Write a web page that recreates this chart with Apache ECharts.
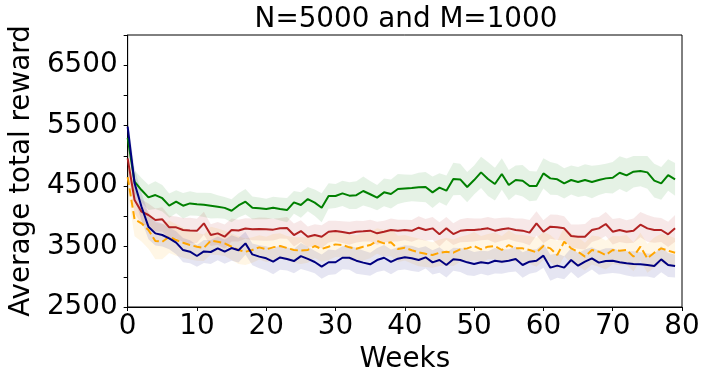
<!DOCTYPE html>
<html>
<head>
<meta charset="utf-8">
<script src="https://cdn.jsdelivr.net/npm/echarts@6/dist/echarts.min.js"></script>
<style>
  html, body { margin: 0; padding: 0; background: #fff; }
  #chart { width: 707px; height: 382px; }
</style>
</head>
<body>
<div id="chart"></div>
<script>
// weeks 0..79
const weeks = Array.from({ length: 80 }, (_, i) => i)

const greenMean = [5300, 4573, 4435, 4314, 4352, 4300, 4176, 4242, 4176, 4214,
  4200, 4190, 4175, 4160, 4140, 4093, 4180, 4242, 4140, 4132,
  4121, 4143, 4121, 4104, 4231, 4187, 4286, 4226, 4143, 4336,
  4336, 4380, 4342, 4350, 4419, 4365, 4309, 4397, 4370, 4452,
  4462, 4470, 4480, 4485, 4397, 4474, 4424, 4617, 4611, 4485,
  4600, 4727, 4617, 4534, 4700, 4518, 4601, 4590, 4501, 4501,
  4711, 4628, 4612, 4546, 4601, 4568, 4601, 4568, 4601, 4628,
  4639, 4722, 4678, 4738, 4749, 4727, 4590, 4546, 4683, 4612]
const greenSpread = [150, 190, 200, 210, 230, 220, 200, 190, 210, 200,
  190, 200, 210, 190, 180, 190, 200, 210, 190, 180,
  170, 180, 190, 200, 190, 210, 200, 220, 240, 210,
  200, 210, 220, 230, 240, 220, 210, 230, 240, 250,
  230, 220, 240, 250, 260, 240, 250, 270, 260, 250,
  240, 260, 280, 270, 260, 250, 240, 260, 250, 240,
  250, 270, 260, 250, 240, 250, 260, 270, 250, 240,
  260, 270, 280, 260, 250, 270, 280, 270, 260, 270]

const redMean = [4959, 4270, 4077, 4022, 3939, 3950, 3818, 3818, 3774, 3765,
  3760, 3884, 3691, 3718, 3663, 3774, 3765, 3800, 3785, 3790,
  3785, 3780, 3802, 3808, 3691, 3757, 3663, 3691, 3663, 3746,
  3757, 3740, 3719, 3746, 3752, 3763, 3719, 3746, 3774, 3763,
  3774, 3760, 3812, 3774, 3801, 3702, 3801, 3707, 3760, 3774,
  3774, 3785, 3801, 3763, 3785, 3801, 3774, 3763, 3730, 3884,
  3746, 3829, 3818, 3801, 3674, 3663, 3663, 3774, 3801, 3873,
  3746, 3774, 3746, 3763, 3862, 3801, 3774, 3774, 3702, 3801]
const redSpread = [200, 220, 200, 190, 190, 200, 190, 180, 200, 210,
  200, 190, 180, 190, 200, 190, 180, 170, 180, 190,
  190, 180, 170, 180, 190, 180, 170, 180, 190, 180,
  170, 180, 190, 180, 170, 180, 190, 180, 190, 180,
  170, 180, 190, 180, 190, 200, 190, 180, 190, 200,
  190, 180, 190, 200, 190, 180, 190, 200, 210, 200,
  190, 200, 210, 200, 190, 200, 210, 200, 190, 200,
  210, 200, 190, 200, 210, 220, 210, 200, 210, 220]

const orangeMean = [4650, 3950, 3884, 3774, 3592, 3580, 3663, 3608, 3564, 3525,
  3497, 3480, 3597, 3580, 3552, 3497, 3442, 3415, 3443, 3487,
  3454, 3487, 3509, 3476, 3443, 3432, 3443, 3509, 3460, 3498,
  3536, 3525, 3487, 3465, 3498, 3525, 3592, 3553, 3570, 3460,
  3480, 3440, 3404, 3380, 3360, 3398, 3415, 3398, 3454, 3470,
  3509, 3454, 3498, 3509, 3443, 3525, 3470, 3470, 3443, 3404,
  3509, 3470, 3360, 3581, 3470, 3415, 3333, 3443, 3415, 3360,
  3443, 3432, 3443, 3333, 3498, 3305, 3398, 3470, 3432, 3398]
const orangeSpread = [250, 280, 300, 310, 300, 290, 270, 260, 250, 240,
  230, 220, 230, 220, 210, 220, 230, 220, 210, 200,
  210, 220, 210, 200, 210, 220, 210, 200, 210, 220,
  210, 200, 210, 220, 230, 220, 210, 220, 230, 220,
  210, 220, 230, 220, 210, 220, 230, 220, 210, 220,
  230, 220, 210, 220, 230, 240, 230, 220, 230, 240,
  230, 220, 230, 240, 250, 240, 230, 240, 250, 240,
  230, 240, 250, 240, 230, 240, 250, 240, 250, 240]

const navyMean = [5483, 4546, 4159, 3829, 3718, 3691, 3636, 3564, 3442, 3415,
  3344, 3420, 3410, 3470, 3415, 3475, 3440, 3553, 3370, 3333,
  3305, 3250, 3320, 3295, 3260, 3342, 3295, 3245, 3167, 3240,
  3240, 3315, 3315, 3266, 3234, 3206, 3277, 3315, 3245, 3300,
  3322, 3305, 3277, 3322, 3239, 3277, 3195, 3290, 3277, 3239,
  3211, 3239, 3222, 3266, 3250, 3266, 3294, 3195, 3250, 3266,
  3349, 3151, 3184, 3151, 3277, 3184, 3250, 3305, 3234, 3261,
  3266, 3239, 3222, 3211, 3206, 3195, 3178, 3288, 3195, 3178]
const navySpread = [150, 250, 230, 210, 200, 190, 180, 190, 200, 190,
  180, 190, 200, 195, 200, 210, 205, 190, 180, 190,
  200, 210, 205, 190, 200, 215, 200, 185, 200, 210,
  200, 190, 200, 215, 200, 190, 200, 210, 205, 190,
  200, 210, 200, 185, 200, 210, 205, 190, 200, 215,
  200, 190, 200, 210, 200, 190, 205, 210, 200, 190,
  200, 215, 200, 190, 200, 210, 200, 185, 200, 210,
  205, 190, 200, 210, 200, 190, 200, 215, 200, 190]

const yLabelValues = [2500, 3500, 4500, 5500, 6500]

const FONT = 'DejaVu Sans'
const FS = 27.8

const groups = [
  { key: 'green', color: '#008000', mean: greenMean, spread: greenSpread, dashed: false },
  { key: 'red', color: '#b22222', mean: redMean, spread: redSpread, dashed: false },
  { key: 'orange', color: '#ffa500', mean: orangeMean, spread: orangeSpread, dashed: true },
  { key: 'navy', color: '#000080', mean: navyMean, spread: navySpread, dashed: false }
]

const series = []
// shaded bands: one polygon per group, lower edge forward then upper edge back
groups.forEach(g => {
  const lower = weeks.map((w, i) => g.mean[i] - g.spread[i])
  const upper = weeks.map((w, i) => g.mean[i] + g.spread[i])
  series.push({
    type: 'custom',
    silent: true,
    z: 1,
    data: weeks.map((w, i) => [w, lower[i], upper[i]]),
    encode: { x: 0, y: [1, 2] },
    renderItem: (params, api) => {
      if (params.dataIndexInside !== 0) return null
      const pts = []
      for (let i = 0; i < weeks.length; i++) pts.push(api.coord([weeks[i], lower[i]]))
      for (let i = weeks.length - 1; i >= 0; i--) pts.push(api.coord([weeks[i], upper[i]]))
      return {
        type: 'polygon',
        shape: { points: pts },
        style: { fill: g.color, opacity: 0.1 }
      }
    }
  })
})
groups.forEach(g => {
  series.push({
    type: 'line',
    symbol: 'none',
    lineStyle: { color: g.color, width: 2, type: g.dashed ? [8, 3.5] : 'solid' },
    data: weeks.map((w, i) => [w, g.mean[i]]),
    z: 3
  })
})

const chart = echarts.init(document.getElementById('chart'))
chart.setOption({
  animation: false,
  backgroundColor: '#fff',
  title: {
    text: 'N=5000 and M=1000',
    left: 401,
    top: 1,
    textAlign: 'center',
    textStyle: { fontFamily: FONT, fontSize: FS, fontWeight: 'normal', color: '#000' }
  },
  grid: {
    left: 123,
    right: 25,
    top: 35,
    bottom: 75,
    show: true,
    borderColor: '#000',
    borderWidth: 1
  },
  xAxis: {
    type: 'value',
    min: 0,
    max: 80,
    interval: 10,
    name: 'Weeks',
    nameLocation: 'middle',
    nameGap: 37,
    nameTextStyle: { fontFamily: FONT, fontSize: FS, color: '#000' },
    splitLine: { show: false },
    axisLine: { show: true, lineStyle: { color: '#000', width: 1 } },
    axisTick: { show: true, inside: false, length: 4, lineStyle: { color: '#000' } },
    axisLabel: { fontFamily: FONT, fontSize: FS, color: '#000', margin: 6 }
  },
  yAxis: {
    type: 'value',
    min: 2500,
    max: 7000,
    interval: 500,
    name: 'Average total reward',
    nameLocation: 'middle',
    nameGap: 89,
    nameTextStyle: { fontFamily: FONT, fontSize: FS, color: '#000' },
    splitLine: { show: false },
    axisLine: { show: true, lineStyle: { color: '#000', width: 1 } },
    axisTick: { show: true, inside: false, length: 4, lineStyle: { color: '#000' } },
    axisLabel: {
      fontFamily: FONT,
      fontSize: FS,
      color: '#000',
      margin: 10,
      showMaxLabel: true,
      formatter: v => (yLabelValues.includes(v) ? String(v) : '')
    }
  },
  series: series
})
</script>
</body>
</html>
